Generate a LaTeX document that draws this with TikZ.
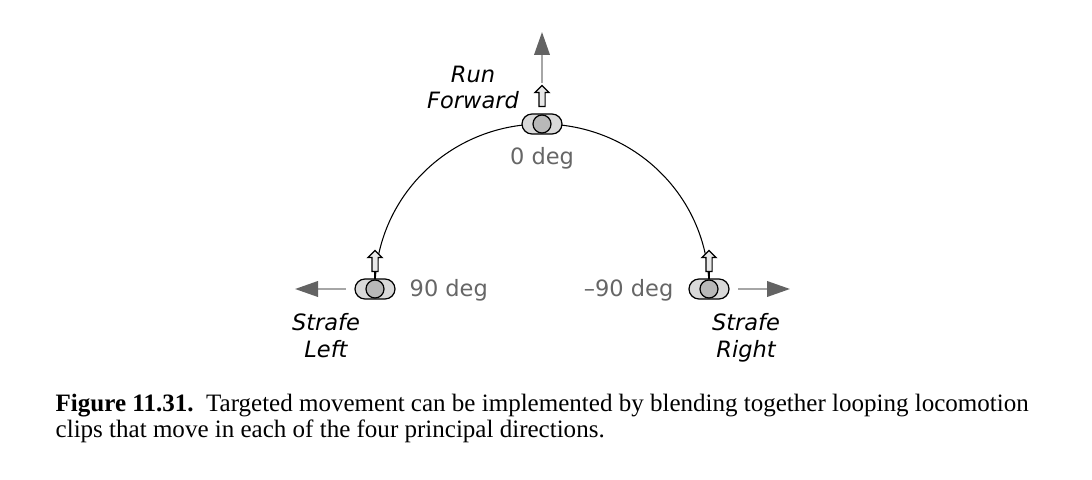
\documentclass[tikz,border=0pt]{standalone}
\usepackage{fontspec}
\setmainfont{Liberation Serif}
\newfontfamily\labelfont{DejaVu Sans}
\usetikzlibrary{arrows.meta,shapes.misc,shapes.arrows}
\definecolor{stickgray}{HTML}{D9D9D9}
\definecolor{knobgray}{HTML}{B8B8B8}
\definecolor{headgray}{HTML}{636363}
\definecolor{shaftgray}{HTML}{A6A6A6}
\definecolor{deggray}{HTML}{666666}
\tikzset{
  stick/.style={draw,fill=stickgray,rounded rectangle,minimum width=.40cm,minimum height=.20cm,inner sep=0pt,line width=.35pt},
  knob/.style={draw,fill=knobgray,circle,minimum size=.18cm,inner sep=0pt,line width=.35pt},
  pad/.style={draw,fill=stickgray!60,single arrow,shape border rotate=90,minimum height=.21cm,minimum width=.13cm,single arrow head extend=.04cm,single arrow tip angle=90,inner sep=.025cm,line width=.35pt},
  dirarrow/.style={draw=shaftgray,line width=.6pt,-{Triangle[length=.23cm,width=.155cm,color=headgray]}},
  deg/.style={font=\labelfont\fontsize{6.4}{7.5}\selectfont,text=deggray,inner sep=0pt},
  clip/.style={font=\labelfont\itshape\fontsize{6.4}{7.65}\selectfont,inner sep=0pt,align=center,anchor=north},
  caption/.style={font=\fontsize{7.12}{8}\selectfont,inner sep=0pt,anchor=base west}
}
\begin{document}
\begin{tikzpicture}[x=1cm,y=1cm]
  \useasboundingbox (0,0) rectangle (10.92,-4.80);
  % sticks, with the blend arc behind them
  \coordinate (top) at (5.42,-1.24);
  \coordinate (lft) at (3.75,-2.89);
  \coordinate (rgt) at (7.09,-2.89);
  \draw[line width=.3pt] (lft) to[out=90,in=180] (top) to[out=0,in=90] (rgt);
  \node[stick] (topstick) at (top) {};
  \node[stick] (lftstick) at (lft) {};
  \node[stick] (rgtstick) at (rgt) {};
  \node[knob] (topknob) at (top) {};
  \node[knob] (lftknob) at (lft) {};
  \node[knob] (rgtknob) at (rgt) {};
  % hollow arrows on the sticks
  \node[pad] (toppad) at (5.42,-.975) {};
  \node[pad] (lftpad) at (3.75,-2.625) {};
  \node[pad] (rgtpad) at (7.09,-2.625) {};
  \draw[line width=.35pt] (lftpad.south) -- (lftknob.north);
  \draw[line width=.35pt] (rgtpad.south) -- (rgtknob.north);
  % movement directions
  \coordinate (topa) at (5.42,-.83);
  \coordinate (topb) at (5.42,-.32);
  \coordinate (lfta) at (3.46,-2.89);
  \coordinate (lftb) at (2.95,-2.89);
  \coordinate (rgta) at (7.38,-2.89);
  \coordinate (rgtb) at (7.90,-2.89);
  \draw[dirarrow] (topa) -- (topb);
  \draw[dirarrow] (lfta) -- (lftb);
  \draw[dirarrow] (rgta) -- (rgtb);
  % labels
  \node[deg,anchor=base] (topdeg) at (5.42,-1.645) {0 deg};
  \node[deg,anchor=base west] (lftdeg) at (4.09,-2.97) {90 deg};
  \node[deg,anchor=base east] (rgtdeg) at (6.74,-2.97) {–90 deg};
  \node[clip] (runlbl) at (4.73,-.65) {Run\\Forward};
  \node[clip] (lftlbl) at (3.26,-3.13) {Strafe\\Left};
  \node[clip] (rgtlbl) at (7.46,-3.13) {Strafe\\Right};
  % caption
  \node[caption] (capa) at (.55,-4.12) {\textbf{Figure 11.31.}\enspace Targeted movement can be implemented by blending together looping locomotion};
  \node[caption] (capb) at (.55,-4.38) {clips that move in each of the four principal directions.};
\end{tikzpicture}
\end{document}
